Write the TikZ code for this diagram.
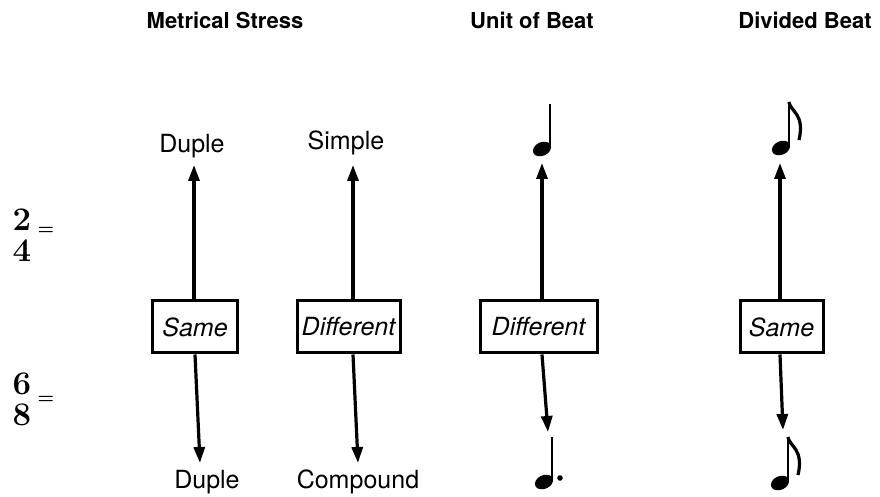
\documentclass[tikz,border=0pt]{standalone}
\usepackage{fontspec}
\setsansfont{TeX Gyre Heros}
\usetikzlibrary{positioning,calc,arrows.meta}
\tikzset{
  colhead/.style={font=\sffamily\bfseries\fontsize{11}{13}\selectfont, inner sep=1pt},
  lbl/.style={font=\sffamily\fontsize{12.5}{14}\selectfont, inner sep=1pt},
  cmpbox/.style={draw, line width=1.5pt, minimum height=26pt, inner sep=2pt,
                 font=\sffamily\itshape\fontsize{12.5}{14}\selectfont},
  arr/.style={line width=1.6pt, -{Triangle[length=8pt,width=5.5pt]}},
  tsig/.style={font=\bfseries\fontsize{16.5}{16.5}\selectfont, inner sep=0pt},
  eqs/.style={font=\bfseries\fontsize{9}{9}\selectfont, inner sep=0pt},
  quarter/.pic={
    \fill[rotate=25] (0,0) ellipse[x radius=9.5, y radius=6.8];
    \draw[line width=1.2pt] (7.8,-2) -- (7.8,-45);
  },
  dottedq/.pic={
    \pic {quarter};
    \fill (16,-4) circle[radius=2.8];
  },
  eighth/.pic={
    \pic {quarter};
    \draw[line width=1.6pt] (7.8,-46) .. controls (10,-36) and (24,-34) .. (18,-8);
  },
}

\begin{document}
\begin{tikzpicture}[x=0.5pt, y=-0.5pt]
\useasboundingbox (0,0) rectangle (880,497);

% -----------------------------------------
% column headings
% -----------------------------------------
\node[colhead] (hmet)  at (225,20) {Metrical Stress};
\node[colhead] (hunit) at (532,20) {Unit of Beat};
\node[colhead] (hdiv)  at (805,20) {Divided Beat};

% -----------------------------------------
% time signatures
% -----------------------------------------
\node[tsig] (twoA)   at (22,220) {2};
\node[tsig] (fourA)  at (22,251) {4};
\node[eqs]  (eqA)    at (46,231) {=};
\node[tsig] (sixB)   at (22,384) {6};
\node[tsig] (eightB) at (22,415) {8};
\node[eqs]  (eqB)    at (46,400) {=};

% -----------------------------------------
% comparison boxes
% -----------------------------------------
\node[cmpbox, minimum width=42.5pt] (same1) at (195,327)   {Same};
\node[cmpbox, minimum width=51.5pt] (diff1) at (348.5,327) {Different};
\node[cmpbox, minimum width=58.5pt] (diff2) at (538.5,327) {Different};
\node[cmpbox, minimum width=41.5pt] (same2) at (781.5,327) {Same};

% labels above / below
\node[lbl] (dupleU)  at (192,146) {Duple};
\node[lbl] (simpleU) at (346,143) {Simple};
\node[lbl] (dupleD)  at (207,482) {Duple};
\node[lbl] (compD)   at (358,482) {Compound};

% note values
\pic at (542,149) {quarter};
\pic at (781,148) {eighth};
\pic at (544,482) {dottedq};
\pic at (780,483) {eighth};

% arrow tips
\coordinate (up1) at (194,165);
\coordinate (up2) at (353,165);
\coordinate (up3) at (542,163);
\coordinate (up4) at (780,163);
\coordinate (dn1) at (200,463);
\coordinate (dn2) at (358,463);
\coordinate (dn3) at (548,432);
\coordinate (dn4) at (783,430);

\draw[arr] (same1.north -| up1) -- (up1);
\draw[arr] (diff1.north -| up2) -- (up2);
\draw[arr] (diff2.north -| up3) -- (up3);
\draw[arr] (same2.north -| up4) -- (up4);

\draw[arr] (same1.south) -- (dn1);
\draw[arr] (diff1.south -| up2) -- (dn2);
\draw[arr] (diff2.south -| up3) -- (dn3);
\draw[arr] (same2.south -| up4) -- (dn4);
\end{tikzpicture}
\end{document}
